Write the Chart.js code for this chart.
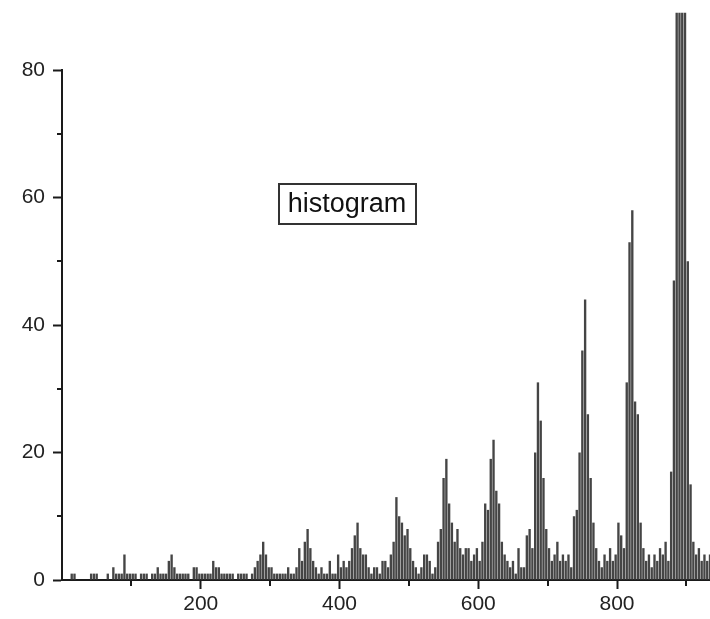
<!DOCTYPE html>
<html>
<head>
<meta charset="utf-8">
<script src="https://cdn.jsdelivr.net/npm/chart.js@4"></script>
<style>
  html, body { margin: 0; padding: 0; background: #fff; }
  #wrap { width: 710px; height: 619px; position: relative; }
</style>
</head>
<body>
<div id="wrap"><canvas id="histChart"></canvas></div>
<script>
// bin width in x units, heights per 100-wide stretch
const binWidth = 4;
const counts000 = [0,0,0,1,1,0,0,0,0,0,1,1,1,0,0,0,1,0,2,1,1,1,4,1,1];
const counts100 = [1,1,0,1,1,1,0,1,1,2,1,1,1,3,4,2,1,1,1,1,1,0,2,2,1];
const counts200 = [1,1,1,1,3,2,2,1,1,1,1,1,0,1,1,1,1,0,1,2,3,4,6,4,2];
const counts300 = [2,1,1,1,1,1,2,1,1,2,5,3,6,8,5,3,2,1,2,1,1,3,1,1,4];
const counts400 = [2,3,2,3,5,7,9,5,4,4,2,1,2,2,1,3,3,2,4,6,13,10,9,7,8];
const counts500 = [5,3,2,1,2,4,4,3,1,2,6,8,16,19,12,9,6,8,5,4,5,5,3,4,5];
const counts600 = [3,6,12,11,19,22,14,12,6,4,3,2,3,1,5,2,2,7,8,5,20,31,25,16,8];
const counts700 = [5,3,4,6,3,4,3,4,2,10,11,20,36,44,26,16,9,5,3,2,4,3,5,3,4];
const counts800 = [9,7,5,31,53,58,28,26,9,5,3,4,2,4,3,5,4,6,3,17,47,89,89,89,89];
const counts900 = [50,15,6,4,5,3,4,3,4];

const xTicks = [200, 400, 600, 800];
const xMinorTicks = [100, 300, 500, 700, 900];
const yTicks = [0, 20, 40, 60, 80];
const yMinorTicks = [10, 30, 50, 70];
const boxLabel = 'histogram';

const counts = [].concat(counts000, counts100, counts200, counts300, counts400,
  counts500, counts600, counts700, counts800, counts900);
const points = counts.map((c, i) => ({ x: i * binWidth + binWidth / 2, y: c }));

const axisColor = '#1a1a1a';
const fontFamily = '"Liberation Sans", Arial, Helvetica, sans-serif';

const decorations = {
  id: 'decorations',
  afterDraw(chart) {
    const { ctx, chartArea, scales: { x, y } } = chart;
    ctx.save();
    ctx.strokeStyle = axisColor;
    ctx.lineWidth = 2;
    yMinorTicks.forEach(v => {
      const py = Math.round(y.getPixelForValue(v));
      ctx.beginPath();
      ctx.moveTo(chartArea.left - 5, py);
      ctx.lineTo(chartArea.left, py);
      ctx.stroke();
    });
    xMinorTicks.forEach(v => {
      const px = Math.round(x.getPixelForValue(v));
      ctx.beginPath();
      ctx.moveTo(px, chartArea.bottom);
      ctx.lineTo(px, chartArea.bottom + 6);
      ctx.stroke();
    });
    // boxed label
    ctx.font = '27px ' + fontFamily;
    ctx.fillStyle = '#111';
    ctx.textAlign = 'center';
    ctx.textBaseline = 'middle';
    ctx.fillText(boxLabel, 347, 205);
    ctx.strokeStyle = '#333';
    ctx.strokeRect(279, 184, 137, 40);
    ctx.restore();
  }
};

new Chart(document.getElementById('histChart'), {
  type: 'bar',
  data: {
    datasets: [{
      data: points,
      backgroundColor: '#454545',
      borderWidth: 0,
      barPercentage: 0.85,
      categoryPercentage: 1,
      clip: false
    }]
  },
  options: {
    responsive: true,
    maintainAspectRatio: false,
    animation: false,
    layout: { padding: { top: 70, right: 0, left: 0, bottom: 0 } },
    plugins: { legend: { display: false }, tooltip: { enabled: false } },
    scales: {
      x: {
        type: 'linear',
        offset: false,
        min: 0,
        max: 934,
        afterBuildTicks: s => { s.ticks = xTicks.map(v => ({ value: v })); },
        afterFit: s => { s.height = 39; },
        grid: { offset: false, drawOnChartArea: false, drawTicks: true, tickLength: 9, tickWidth: 2, tickColor: axisColor },
        border: { color: axisColor, width: 2 },
        ticks: { color: '#222', padding: 3, maxRotation: 0, font: { size: 21, family: fontFamily } }
      },
      y: {
        min: 0,
        max: 80,
        afterBuildTicks: s => { s.ticks = yTicks.map(v => ({ value: v })); },
        afterFit: s => { s.width = 62; },
        grid: { drawOnChartArea: false, drawTicks: true, tickLength: 9, tickWidth: 2, tickColor: axisColor },
        border: { color: axisColor, width: 2 },
        ticks: { color: '#222', padding: 8, font: { size: 21, family: fontFamily } }
      }
    }
  },
  plugins: [decorations]
});
</script>
</body>
</html>
